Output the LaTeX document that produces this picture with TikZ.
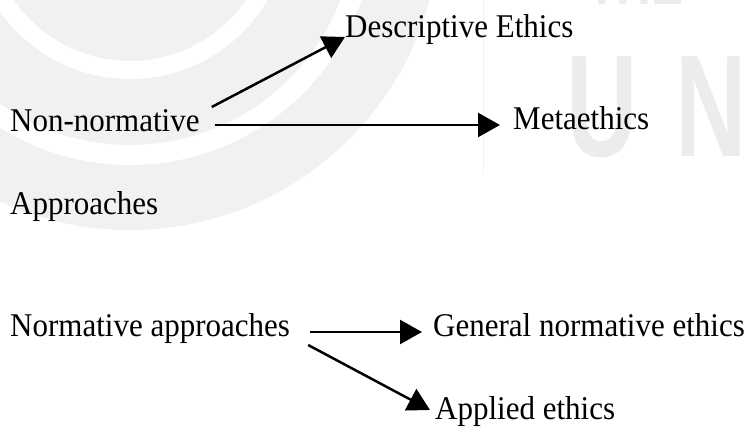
\documentclass[tikz,border=0pt]{standalone}
\usepackage{fontspec}
\usepackage{graphicx}
\setmainfont{Liberation Serif}
\newfontfamily\wmfont{Liberation Sans}
\usetikzlibrary{arrows.meta}
\definecolor{wmgray}{HTML}{F1F1F1}
\definecolor{wmtext}{HTML}{ECECEC}
\newcommand{\tallt}[1]{\scalebox{1}[1.07]{#1}}
\tikzset{
  lbl/.style={anchor=base west, inner sep=0pt, font=\fontsize{31}{36}\selectfont},
  wmletter/.style={anchor=base west, inner sep=0pt, text=wmtext, font=\wmfont\bfseries\fontsize{145}{150}\selectfont},
  arr/.style={line width=2.5pt, -{Triangle[length=22pt,width=24pt]}},
}
\begin{document}
\begin{tikzpicture}[x=1pt,y=-1pt]
\useasboundingbox (0,0) rectangle (750,427);
% faint watermark
\begin{scope}
\clip (0,0) rectangle (750,427);
\fill[wmgray] (130,-80) circle[radius=310pt];
\draw[white, line width=20pt] (130,-80) circle[radius=235pt];
\draw[white, line width=18pt] (130,-80) circle[radius=150pt];
\draw[wmtext!80!black!20, line width=1pt] (483,0) -- (483,175);
\node[wmletter] (wmu) at (566,157) {\scalebox{0.68}[1]{U}};
\node[wmletter] (wmn) at (675,157) {\scalebox{0.68}[1]{N}};
\node[anchor=base west, inner sep=0pt, text=wmtext, font=\wmfont\bfseries\fontsize{60}{64}\selectfont] (wmthe) at (587,5) {\scalebox{0.8}[1]{THE}};
\end{scope}
% labels
\node[lbl] (nonnorm) at (10,132) {\tallt{Non-normative}};
\node[lbl] (appr) at (10,215) {\tallt{Approaches}};
\node[lbl] (desc) at (345,38) {\tallt{Descriptive Ethics}};
\node[lbl] (meta) at (513,130) {\tallt{Metaethics}};
\node[lbl] (norm) at (10,337) {\tallt{Normative approaches}};
\node[lbl] (gen) at (433,337) {\tallt{General normative ethics}};
\node[lbl] (appl) at (435,420) {\tallt{Applied ethics}};
% connectors
\draw[arr] ([shift={(12,-25)}]nonnorm.base east) -- ([shift={(0,-1)}]desc.base west);
\draw[arr] ([shift={(15,-7)}]nonnorm.base east) -- ([shift={(-13,-5)}]meta.base west);
\draw[arr] ([shift={(20,-5)}]norm.base east) -- ([shift={(-11,-5)}]gen.base west);
\draw[arr] ([shift={(18,8)}]norm.base east) -- ([shift={(-5,-10)}]appl.base west);
\end{tikzpicture}
\end{document}
